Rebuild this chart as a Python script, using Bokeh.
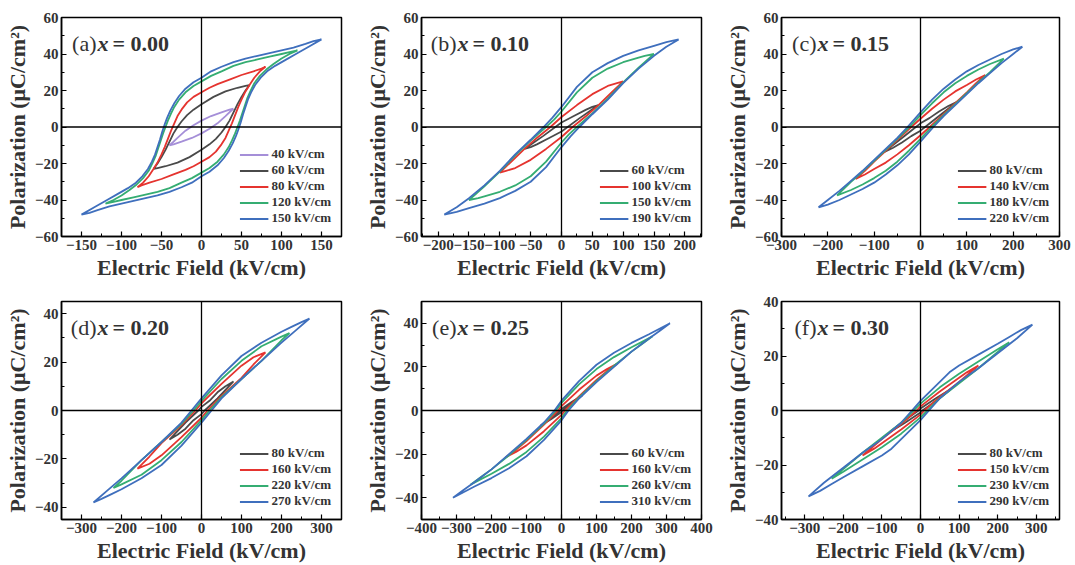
from bokeh.plotting import figure
from bokeh.layouts import row, column
from bokeh.models import Span, Label, Legend, LegendItem, Range1d, SingleIntervalTicker
from bokeh.embed import file_html
from bokeh.resources import INLINE

# ---------------- data (upper/descending branch of each P-E loop) ----------------
# panel (a) x = 0.00
A_LABELS = ["40 kV/cm", "60 kV/cm", "80 kV/cm", "120 kV/cm", "150 kV/cm"]
A40_E = [40, 35, 25, 12, 0, -10, -20, -30, -36, -40]
A40_P = [10, 9.5, 8, 6, 3.5, 1, -2, -6, -8.5, -10]
A60_E = [60, 55, 45, 30, 15, 0, -10, -18, -25, -30, -35, -40, -45, -50, -55, -60]
A60_P = [23, 22.5, 21.5, 19.5, 16.5, 12.5, 9.5, 6.5, 3, 0, -3.5, -8, -12.5, -16.5, -20, -23]
A80_E = [80, 75, 65, 50, 35, 20, 10, 0, -10, -18, -25, -30, -34, -38, -42, -46, -50, -55, -60, -66, -73, -80]
A80_P = [33, 32, 30.5, 28.5, 26, 23.5, 21.5, 19, 16.5, 13.5, 9.5, 6, 2, -2, -6.5, -11, -15, -19.5, -23, -27, -30.5, -33]
A120_E = [120, 110, 100, 85, 70, 55, 40, 25, 12, 0, -10, -20, -28, -34, -38, -42, -45, -48, -51, -54, -57, -61, -66, -73, -81, -90, -100, -110, -120]
A120_P = [42, 41, 40, 38.5, 37, 35.5, 33.5, 30.5, 28, 25, 22.5, 19, 15, 11, 7.5, 3.5, 0, -3.5, -7.5, -11.5, -15.5, -19.5, -24, -28, -31.5, -34.5, -37.5, -40, -42]
A150_E = [150, 140, 130, 115, 100, 85, 70, 55, 40, 25, 12, 0, -10, -20, -28, -34, -39, -43, -46, -49, -52, -55, -58, -62, -67, -74, -82, -92, -104, -118, -134, -150]
A150_P = [48, 47, 45.5, 43.5, 42, 40.5, 39, 37.5, 35.5, 33, 30.5, 27, 24.5, 21, 17, 13, 9, 5, 1.5, -2.5, -7, -11, -15, -19, -23, -27, -30.5, -33.5, -36.5, -40, -44, -48]

# panel (b) x = 0.10
B_LABELS = ["60 kV/cm", "100 kV/cm", "150 kV/cm", "190 kV/cm"]
B60_E = [60, 50, 40, 20, 0, -10, -30, -45, -60]
B60_P = [12, 11, 9.5, 6, 2.5, 0, -5, -8.5, -12]
B100_E = [100, 90, 75, 50, 25, 0, -18, -40, -60, -80, -100]
B100_P = [25, 24, 22.5, 18, 12, 5.5, 0, -6, -12, -18.5, -25]
B150_E = [150, 135, 125, 100, 75, 50, 25, 0, -12, -25, -50, -75, -100, -125, -150]
B150_P = [40, 39, 38, 35.5, 32, 27, 19, 8.5, 4, 0, -7.5, -15.5, -24.5, -32.5, -40]
B190_E = [190, 170, 150, 125, 100, 75, 50, 25, 0, -15, -29, -50, -75, -100, -125, -150, -170, -190]
B190_P = [48, 46.5, 44.5, 42, 39, 35, 30, 22, 11, 5, 0, -7, -15, -24, -32, -39, -44, -48]

# panel (c) x = 0.15
C_LABELS = ["80 kV/cm", "140 kV/cm", "180 kV/cm", "220 kV/cm"]
C80_E = [80, 60, 40, 20, 0, -10, -40, -60, -80]
C80_P = [14, 11.5, 8.5, 5, 2, 0, -6, -10, -14]
C140_E = [140, 120, 100, 75, 50, 25, 0, -20, -50, -75, -100, -120, -140]
C140_P = [28.5, 26, 23, 19.5, 15, 10, 4.5, 0, -7, -13, -19, -24, -28.5]
C180_E = [180, 150, 125, 100, 75, 50, 25, 0, -24, -50, -75, -100, -125, -150, -180]
C180_P = [37.5, 34.5, 31.5, 28, 24, 19, 13, 6.5, 0, -6.5, -12.5, -18.5, -24.5, -30, -37.5]
C220_E = [220, 200, 175, 150, 125, 100, 75, 50, 25, 0, -28, -50, -75, -100, -125, -150, -175, -200, -220]
C220_P = [44, 42.5, 40, 37, 34, 30.5, 26, 21, 15, 8, 0, -6, -12, -18, -24, -29.5, -35, -40, -44]

# panel (d) x = 0.20
D_LABELS = ["80 kV/cm", "160 kV/cm", "220 kV/cm", "270 kV/cm"]
D80_E = [80, 60, 40, 20, 0, -8, -40, -60, -80]
D80_P = [12, 10, 7.5, 4, 1.5, 0, -5, -8.5, -12]
D160_E = [160, 130, 100, 50, 0, -15, -50, -100, -130, -160]
D160_P = [24, 22, 18.5, 11, 3, 0, -6, -13.5, -19, -24]
D220_E = [220, 200, 150, 100, 50, 0, -20, -50, -100, -150, -200, -220]
D220_P = [32, 30.5, 26.5, 20.5, 13, 4, 0, -5.5, -13, -20.5, -29, -32]
D270_E = [270, 250, 225, 200, 150, 100, 50, 0, -25, -50, -100, -150, -200, -235, -270]
D270_P = [38, 36.5, 34.5, 32.5, 28, 22.5, 14.5, 5, 0, -5, -13, -20.5, -28, -33, -38]

# panel (e) x = 0.25
E_LABELS = ["60 kV/cm", "160 kV/cm", "260 kV/cm", "310 kV/cm"]
E60_E = [60, 30, 0, -4, -30, -60]
E60_P = [7, 4, 0.7, 0, -3.5, -7]
E160_E = [160, 130, 100, 50, 0, -10, -50, -100, -130, -160]
E160_P = [21.5, 19, 16, 9.5, 2, 0, -6.5, -14, -18, -21.5]
E260_E = [260, 230, 200, 150, 100, 50, 0, -16, -50, -100, -150, -200, -230, -260]
E260_P = [34, 31.5, 29, 24.5, 19, 12, 3.5, 0, -6, -13.5, -20.5, -27, -30.5, -34]
E310_E = [310, 280, 250, 200, 150, 100, 50, 0, -20, -50, -100, -150, -200, -250, -280, -310]
E310_P = [40, 37.5, 35, 31, 26.5, 21, 13.5, 4.5, 0, -5.5, -13, -20, -27, -33, -36.5, -40]

# panel (f) x = 0.30
F_LABELS = ["80 kV/cm", "150 kV/cm", "230 kV/cm", "290 kV/cm"]
F80_E = [80, 40, 0, -5, -40, -80]
F80_P = [8, 4.5, 0.7, 0, -3.5, -8]
F150_E = [150, 120, 100, 50, 0, -10, -50, -100, -150]
F150_P = [16.5, 14, 12, 7, 1.5, 0, -5, -10.5, -16.5]
F230_E = [230, 200, 150, 100, 50, 0, -18, -50, -100, -150, -200, -230]
F230_P = [25, 22.5, 18, 13.5, 8.5, 2.5, 0, -4.5, -10, -15.5, -21.5, -25]
F290_E = [290, 260, 230, 200, 150, 100, 75, 50, 0, -22, -50, -100, -150, -200, -250, -290]
F290_P = [31.5, 29.5, 27, 24.5, 20.5, 16.5, 14, 10.5, 3.5, 0, -4.5, -10.5, -15.5, -21, -26.5, -31.5]

PANEL_TAGS = ["(a)", "(b)", "(c)", "(d)", "(e)", "(f)"]
PANEL_X = ["= 0.00", "= 0.10", "= 0.15", "= 0.20", "= 0.25", "= 0.30"]

COL_PURPLE = "#a58fd8"
COL_GRAY = "#4a4a4a"
COL_RED = "#e5342f"
COL_GREEN = "#35ad72"
COL_BLUE = "#3f6fbd"
TXT = "#333333"

SERIF = "Liberation Serif"


def loop(e_up, p_up):
    xs = list(e_up) + [-e for e in e_up]
    ys = list(p_up) + [-p for p in p_up]
    return xs, ys


def make_panel(idx, loops, labels, colors, xr, yr, xint, yint, width, height,
               bl, br, bt, bb):
    fw = width - bl - br
    fh = height - bt - bb
    p = figure(width=width, height=height, output_backend="svg", toolbar_location=None,
               x_range=Range1d(*xr), y_range=Range1d(*yr),
               min_border_left=bl, min_border_right=br, min_border_top=bt, min_border_bottom=bb)
    p.xgrid.visible = False
    p.ygrid.visible = False
    p.outline_line_color = "black"
    p.outline_line_width = 1.5
    p.background_fill_color = "white"

    p.xaxis.ticker = SingleIntervalTicker(interval=xint, num_minor_ticks=2)
    p.yaxis.ticker = SingleIntervalTicker(interval=yint, num_minor_ticks=2)
    p.xaxis.axis_label = "Electric Field (kV/cm)"
    p.yaxis.axis_label = "Polarization (\u03bcC/cm\u00b2)"
    for ax in (p.xaxis[0], p.yaxis[0]):
        ax.axis_line_color = "black"
        ax.axis_line_width = 1.5
        ax.major_tick_in = 5
        ax.major_tick_out = 0
        ax.minor_tick_in = 3
        ax.minor_tick_out = 0
        ax.major_tick_line_color = "black"
        ax.minor_tick_line_color = "black"
        ax.major_tick_line_width = 1.2
        ax.major_label_text_font = SERIF
        ax.major_label_text_font_style = "bold"
        ax.major_label_text_font_size = "15px"
        ax.major_label_text_color = TXT
        ax.axis_label_text_font = SERIF
        ax.axis_label_text_font_style = "bold"
        ax.axis_label_text_font_size = "22px"
        ax.axis_label_text_color = TXT
        ax.major_label_standoff = 3
        ax.axis_label_standoff = 2

    p.add_layout(Span(location=0, dimension="height", line_color="black", line_width=1.3))
    p.add_layout(Span(location=0, dimension="width", line_color="black", line_width=1.3))

    items = []
    for (e_up, p_up), lab, col in zip(loops, labels, colors):
        xs, ys = loop(e_up, p_up)
        r = p.line(xs, ys, line_color=col, line_width=1.8)
        items.append(LegendItem(label=lab, renderers=[r]))

    leg = Legend(items=items, location="bottom_right")
    leg.label_text_font = SERIF
    leg.label_text_font_style = "bold"
    leg.label_text_font_size = "13px"
    leg.label_text_color = TXT
    leg.glyph_width = 29
    leg.glyph_height = 15
    leg.label_height = 15
    leg.spacing = 0
    leg.label_standoff = 3
    leg.background_fill_alpha = 0
    leg.border_line_alpha = 0
    leg.margin = 4
    leg.padding = 6
    p.add_layout(leg)

    sx = (xr[1] - xr[0]) / fw
    sy = (yr[1] - yr[0]) / fh
    ybase = yr[1] - 27 * sy
    common = dict(text_font=SERIF, text_font_size="22px", text_color=TXT,
                  text_baseline="alphabetic")
    p.add_layout(Label(x=xr[0] + 35 * sx, y=ybase, text=PANEL_TAGS[idx], text_align="right",
                       text_font_style="normal", **common))
    p.add_layout(Label(x=xr[0] + 36 * sx, y=ybase, text="x", text_align="left",
                       text_font_style="bold italic", **common))
    p.add_layout(Label(x=xr[0] + 51 * sx, y=ybase, text=PANEL_X[idx], text_align="left",
                       text_font_style="bold", **common))
    return p


C4 = [COL_GRAY, COL_RED, COL_GREEN, COL_BLUE]
C5 = [COL_PURPLE, COL_GRAY, COL_RED, COL_GREEN, COL_BLUE]

pa = make_panel(0, [(A40_E, A40_P), (A60_E, A60_P), (A80_E, A80_P), (A120_E, A120_P), (A150_E, A150_P)],
                A_LABELS, C5, (-175, 175), (-60, 60), 50, 20, 360, 282, 61, 19, 17, 39)
pb = make_panel(1, [(B60_E, B60_P), (B100_E, B100_P), (B150_E, B150_P), (B190_E, B190_P)],
                B_LABELS, C4, (-227, 227), (-60, 60), 50, 20, 360, 282, 61, 19, 17, 39)
pc = make_panel(2, [(C80_E, C80_P), (C140_E, C140_P), (C180_E, C180_P), (C220_E, C220_P)],
                C_LABELS, C4, (-300, 300), (-60, 60), 100, 20, 355, 282, 61, 16, 17, 39)
pd = make_panel(3, [(D80_E, D80_P), (D160_E, D160_P), (D220_E, D220_P), (D270_E, D270_P)],
                D_LABELS, C4, (-350, 350), (-45, 45), 100, 20, 360, 283, 61, 19, 19, 39)
pe = make_panel(4, [(E60_E, E60_P), (E160_E, E160_P), (E260_E, E260_P), (E310_E, E310_P)],
                E_LABELS, C4, (-400, 400), (-50, 50), 100, 20, 360, 283, 61, 19, 19, 39)
pf = make_panel(5, [(F80_E, F80_P), (F150_E, F150_P), (F230_E, F230_P), (F290_E, F290_P)],
                F_LABELS, C4, (-360, 360), (-40, 40), 100, 20, 355, 283, 61, 16, 19, 39)

layout = column(row(pa, pb, pc), row(pd, pe, pf))
open("out.html", "w").write(file_html(layout, INLINE))
